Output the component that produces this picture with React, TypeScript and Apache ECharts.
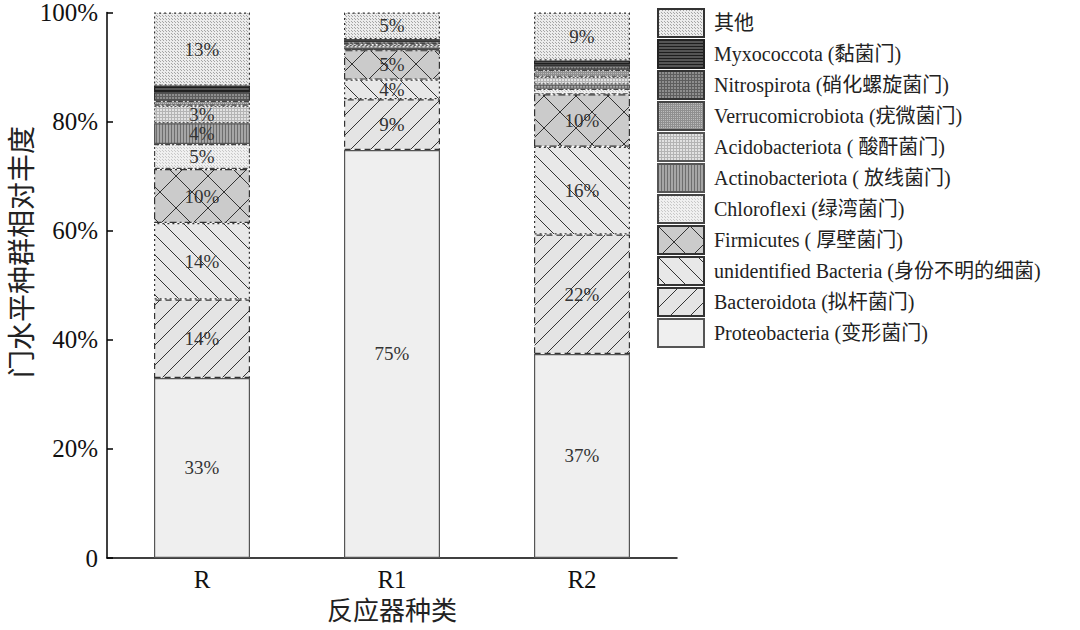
import React, { useEffect, useRef } from 'react';
import * as echarts from 'echarts';

const categories = ['R', 'R1', 'R2'];
const seriesNames = [
  'Proteobacteria (变形菌门)',
  'Bacteroidota (拟杆菌门)',
  'unidentified Bacteria (身份不明的细菌)',
  'Firmicutes ( 厚壁菌门)',
  'Chloroflexi (绿湾菌门)',
  'Actinobacteriota ( 放线菌门)',
  'Acidobacteriota ( 酸酐菌门)',
  'Verrucomicrobiota (疣微菌门)',
  'Nitrospirota (硝化螺旋菌门)',
  'Myxococcota (黏菌门)',
  '其他',
];
const proteobacteria = [33.0, 74.8, 37.4];
const bacteroidota = [14.4, 9.3, 21.9];
const unidentified = [14.0, 3.6, 16.1];
const firmicutes = [9.9, 5.4, 9.6];
const chloroflexi = [4.6, 0.2, 1.0];
const actinobacteriota = [3.8, 0.3, 0.8];
const acidobacteriota = [3.2, 0.5, 1.4];
const verrucomicrobiota = [0.9, 0.4, 1.3];
const nitrospirota = [1.6, 0.3, 0.9];
const myxococcota = [1.2, 0.3, 0.8];
const others = [13.4, 4.9, 8.8];
const yTicks = [0, 20, 40, 60, 80, 100];

const FONT = '"Times New Roman", "Liberation Serif", "Noto Sans CJK SC", serif';

function makePattern(kind: string, bg: string, fg: string, s: number): any {
  const c = document.createElement('canvas');
  c.width = s;
  c.height = s;
  const ctx = c.getContext('2d')!;
  ctx.fillStyle = bg;
  ctx.fillRect(0, 0, s, s);
  ctx.strokeStyle = fg;
  ctx.fillStyle = fg;
  ctx.lineWidth = 1;
  const line = (x1: number, y1: number, x2: number, y2: number) => {
    ctx.beginPath();
    ctx.moveTo(x1, y1);
    ctx.lineTo(x2, y2);
    ctx.stroke();
  };
  if (kind === 'fwd' || kind === 'cross') {
    for (let k = -1; k <= 1; k++) line(0, s + k * s, s, k * s);
  }
  if (kind === 'back' || kind === 'cross') {
    for (let k = -1; k <= 1; k++) line(0, k * s, s, s + k * s);
  }
  if (kind === 'dots') {
    ctx.fillRect(0, 0, 1, 1);
    ctx.fillRect(Math.floor(s / 2), Math.floor(s / 2), 1, 1);
  }
  if (kind === 'hlines' || kind === 'grid') {
    ctx.fillRect(0, 0, s, 1);
  }
  if (kind === 'vlines' || kind === 'grid') {
    ctx.fillRect(0, 0, 1, s);
  }
  return { image: c.toDataURL(), repeat: 'repeat', imageWidth: s, imageHeight: s };
}

export default function App() {
  const ref = useRef<HTMLDivElement>(null);
  useEffect(() => {
    if (!ref.current) return;
    const chart = echarts.init(ref.current, null, { renderer: 'svg' });
    const values = [
      proteobacteria, bacteroidota, unidentified, firmicutes, chloroflexi,
      actinobacteriota, acidobacteriota, verrucomicrobiota, nitrospirota, myxococcota, others,
    ];
    const styles: any[] = [
      { color: '#efefef', borderColor: '#555', borderType: 'solid' },
      { color: makePattern('fwd', '#e4e4e4', '#333', 20), borderColor: '#333', borderType: [6, 4] },
      { color: makePattern('back', '#e8e8e8', '#333', 20), borderColor: '#333', borderType: [2, 3] },
      { color: makePattern('cross', '#cbcbcb', '#333', 32), borderColor: '#333', borderType: [7, 3, 2, 3] },
      { color: makePattern('dots', '#f0f0f0', '#c8c8c8', 3), borderColor: '#444', borderType: [5, 2, 2, 2] },
      { color: makePattern('vlines', '#a6a6a6', '#6e6e6e', 3), borderColor: '#555', borderType: 'solid' },
      { color: makePattern('grid', '#e2e2e2', '#b4b4b4', 3), borderColor: '#555', borderType: [2, 2] },
      { color: makePattern('grid', '#bdbdbd', '#909090', 2), borderColor: '#444', borderType: [5, 2, 2, 2] },
      { color: makePattern('grid', '#8e8e8e', '#5e5e5e', 3), borderColor: '#333', borderType: 'solid' },
      { color: makePattern('hlines', '#555555', '#1e1e1e', 3), borderColor: '#222', borderType: 'solid' },
      { color: makePattern('dots', '#ececec', '#a5a5a5', 3), borderColor: '#333', borderType: [2, 3] },
    ];
    const series = seriesNames.map((name, i) => ({
      name,
      type: 'bar',
      stack: 'total',
      barWidth: 96,
      data: values[i],
      itemStyle: { ...styles[i], borderWidth: 1.2 },
      label: {
        show: true,
        position: 'inside',
        fontFamily: FONT,
        fontSize: 19,
        color: '#333',
        formatter: (p: any) => (p.value >= 3 ? Math.round(p.value) + '%' : ''),
      },
    }));
    chart.setOption({
      animation: false,
      backgroundColor: '#fff',
      grid: { left: 107, right: 403, top: 10, bottom: 72, containLabel: false },
      legend: {
        orient: 'vertical',
        left: 657,
        top: 8,
        padding: 0,
        icon: 'rect',
        itemWidth: 46,
        itemHeight: 28,
        itemGap: 1,
        data: [...seriesNames].reverse(),
        textStyle: { fontFamily: FONT, fontSize: 20, lineHeight: 22, color: '#222', padding: [0, 0, 0, 5] },
      },
      xAxis: {
        type: 'category',
        data: categories,
        axisLine: { lineStyle: { color: '#000', width: 1.5 } },
        axisTick: { alignWithLabel: true, inside: true, length: 6, lineStyle: { color: '#000', width: 1.5 } },
        axisLabel: { fontFamily: FONT, fontSize: 25, color: '#111', margin: 9 },
        name: '反应器种类',
        nameLocation: 'middle',
        nameGap: 40,
        nameTextStyle: { fontFamily: FONT, fontSize: 26, color: '#222' },
      },
      yAxis: {
        type: 'value',
        min: 0,
        max: 100,
        interval: 20,
        splitLine: { show: false },
        axisLine: { show: true, lineStyle: { color: '#000', width: 1.5 } },
        axisTick: { show: true, inside: true, length: 6, lineStyle: { color: '#000', width: 1.5 } },
        axisLabel: {
          fontFamily: FONT,
          fontSize: 25,
          color: '#111',
          margin: 9,
          formatter: (v: number) => (yTicks.includes(v) ? (v === 0 ? '0' : v + '%') : ''),
        },
      },
      graphic: [
        {
          type: 'text',
          x: 22,
          y: 252,
          rotation: Math.PI / 2,
          style: {
            text: '门水平种群相对丰度',
            fontFamily: FONT,
            fontSize: 28,
            fill: '#222',
            textAlign: 'center',
            textVerticalAlign: 'middle',
          },
        },
      ],
      series,
    });
    return () => chart.dispose();
  }, []);
  return (
    <div
      ref={ref}
      style={{ position: 'fixed', left: 0, top: 0, width: 1080, height: 630, background: '#fff' }}
    />
  );
}
